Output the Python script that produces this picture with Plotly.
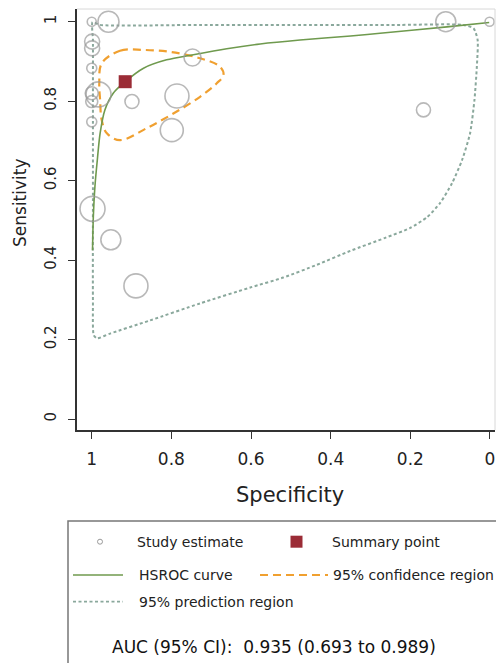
import plotly.graph_objects as go

# ---------------- data ----------------
study_spec = [1.000, 0.958, 0.999, 0.999, 1.000, 0.983, 1.000, 1.000, 1.000, 0.899,
              0.786, 0.799, 0.747, 0.998, 0.952, 0.889, 0.111, 0.001, 0.167]
study_sens = [1.000, 1.000, 0.950, 0.933, 0.883, 0.817, 0.820, 0.799, 0.748, 0.799,
              0.813, 0.727, 0.910, 0.529, 0.451, 0.335, 1.000, 1.000, 0.778]
study_size = [9, 21, 15, 15, 10, 25, 13, 12, 10, 14,
              24, 23, 17, 25, 20, 24, 20, 9, 14]

summary_spec = [0.916]
summary_sens = [0.849]

hsroc_spec = [0.998, 0.996, 0.992, 0.986, 0.979, 0.967, 0.946, 0.916, 0.870,
              0.812, 0.745, 0.661, 0.577, 0.477, 0.350, 0.276, 0.108, 0.002]
hsroc_sens = [0.425, 0.509, 0.585, 0.652, 0.719, 0.778, 0.820, 0.849, 0.883,
              0.904, 0.917, 0.932, 0.944, 0.954, 0.964, 0.971, 0.987, 0.998]

conf_spec = [0.975, 0.929, 0.870, 0.803, 0.728, 0.678, 0.669, 0.686, 0.728,
             0.795, 0.862, 0.929, 0.962, 0.975, 0.979, 0.981, 0.975]
conf_sens = [0.895, 0.927, 0.929, 0.924, 0.908, 0.887, 0.866, 0.845, 0.811,
             0.769, 0.732, 0.702, 0.719, 0.753, 0.803, 0.845, 0.895]

pred_spec = [0.998, 0.979, 0.728, 0.477, 0.225, 0.067, 0.041, 0.031, 0.033, 0.039,
             0.050, 0.070, 0.095, 0.125, 0.158, 0.200, 0.263, 0.351, 0.435, 0.519,
             0.602, 0.728, 0.854, 0.954, 0.987, 0.995, 0.997, 0.997, 0.997, 0.997, 0.998]
pred_sens = [0.999, 0.992, 0.992, 0.992, 0.992, 0.992, 0.983, 0.954, 0.887, 0.803,
             0.719, 0.652, 0.594, 0.544, 0.508, 0.481, 0.456, 0.423, 0.388, 0.356,
             0.331, 0.291, 0.248, 0.215, 0.203, 0.211, 0.300, 0.551, 0.803, 0.954, 0.999]

tick_vals = [0, 0.2, 0.4, 0.6, 0.8, 1]
tick_text = ["0", "0.2", "0.4", "0.6", "0.8", "1"]
auc_text = "AUC (95% CI):\u00a0\u00a00.935 (0.693 to 0.989)"

# ---------------- styles ----------------
GREEN = "#6f9a4e"
ORANGE = "#f0a030"
PRED = "#8aa89c"
CIRC = "#9a9a9a"
SQ = "#9b2c36"
TXT = "#222222"
FONT = "DejaVu Sans"

W, H = 496, 663
L, R, T, B = 77, 495, 9, 430


def px(x):
    return (x - L) / (R - L)


def py(y):
    return (B - y) / (B - T)


fig = go.Figure()

fig.add_trace(go.Scatter(x=pred_spec, y=pred_sens, mode="lines",
                         line=dict(color=PRED, width=2, dash="3px,2.5px", shape="spline", smoothing=0.6),
                         hoverinfo="skip"))
fig.add_trace(go.Scatter(x=conf_spec, y=conf_sens, mode="lines",
                         line=dict(color=ORANGE, width=2.2, dash="8px,5px", shape="spline", smoothing=1.0),
                         hoverinfo="skip"))
fig.add_trace(go.Scatter(x=hsroc_spec, y=hsroc_sens, mode="lines",
                         line=dict(color=GREEN, width=1.6, shape="spline", smoothing=0.8),
                         hoverinfo="skip"))
fig.add_trace(go.Scatter(x=study_spec, y=study_sens, mode="markers",
                         marker=dict(symbol="circle-open", size=study_size, color=CIRC,
                                     line=dict(color=CIRC, width=1.6)),
                         hoverinfo="skip"))
fig.add_trace(go.Scatter(x=summary_spec, y=summary_sens, mode="markers",
                         marker=dict(symbol="square", size=13, color=SQ,
                                     line=dict(color=SQ, width=0)),
                         hoverinfo="skip"))

fig.update_layout(
    width=W, height=H,
    margin=dict(l=L, r=W - R, t=T, b=H - B, pad=0),
    paper_bgcolor="white", plot_bgcolor="white",
    showlegend=False,
    font=dict(family=FONT, color=TXT),
    xaxis=dict(range=[1.037, -0.0126], tickvals=tick_vals, ticktext=tick_text,
               showgrid=False, zeroline=False, showline=True, linecolor="#333", linewidth=1.5,
               ticks="outside", ticklen=7, tickwidth=1.2, tickcolor="#333",
               tickfont=dict(family=FONT, size=17, color=TXT), ticklabelstandoff=6),
    yaxis=dict(range=[-0.0277, 1.032], tickvals=tick_vals, ticktext=tick_text,
               showgrid=False, zeroline=False, showline=True, linecolor="#333", linewidth=1.5,
               ticks="outside", ticklen=7, tickwidth=1.2, tickcolor="#333", tickangle=-90,
               tickfont=dict(family=FONT, size=15, color=TXT), ticklabelstandoff=6),
)

shapes = []
# faint frame top/right
shapes.append(dict(type="line", xref="paper", yref="paper", x0=px(L), x1=px(R), y0=py(T), y1=py(T),
                   line=dict(color="#d8d8d8", width=1)))
shapes.append(dict(type="line", xref="paper", yref="paper", x0=px(R), x1=px(R), y0=py(T), y1=py(B),
                   line=dict(color="#d8d8d8", width=1)))
# legend box
shapes.append(dict(type="rect", xref="paper", yref="paper", x0=px(68), x1=px(500), y0=py(521), y1=py(670),
                   line=dict(color="#777777", width=1.5), fillcolor="white", layer="below"))
# legend symbols
shapes.append(dict(type="circle", xref="paper", yref="paper", x0=px(97.5), x1=px(102.5), y0=py(539.2), y1=py(544.2),
                   line=dict(color=CIRC, width=1)))
shapes.append(dict(type="rect", xref="paper", yref="paper", x0=px(290.5), x1=px(302.5), y0=py(535.7), y1=py(547.7),
                   line=dict(width=0), fillcolor=SQ))
shapes.append(dict(type="line", xref="paper", yref="paper", x0=px(73), x1=px(123), y0=py(575), y1=py(575),
                   line=dict(color=GREEN, width=1.6)))
shapes.append(dict(type="line", xref="paper", yref="paper", x0=px(260), x1=px(328), y0=py(575), y1=py(575),
                   line=dict(color=ORANGE, width=1.8, dash="8px,5px")))
shapes.append(dict(type="line", xref="paper", yref="paper", x0=px(73), x1=px(123), y0=py(601.7), y1=py(601.7),
                   line=dict(color=PRED, width=1.8, dash="3px,2.5px")))
fig.update_layout(shapes=shapes)

ann = []


def text(x, y, s, size, anchor="left", angle=0, color=TXT):
    ann.append(dict(x=px(x), y=py(y), xref="paper", yref="paper", text=s, showarrow=False,
                    xanchor=anchor, yanchor="middle", textangle=angle,
                    font=dict(family=FONT, size=size, color=color)))


text(290, 495, "Specificity", 21, anchor="center")
text(20, 203, "Sensitivity", 17, anchor="center", angle=-90)
text(135, 541.7, "Study estimate", 14)
text(330, 541.7, "Summary point", 14)
text(137, 575, "HSROC curve", 14)
text(331, 575, "95% confidence region", 14)
text(137, 601.7, "95% prediction region", 14)
text(110, 646.7, auc_text, 17, color="#111111")
fig.update_layout(annotations=ann)

fig.write_html("out.html")
